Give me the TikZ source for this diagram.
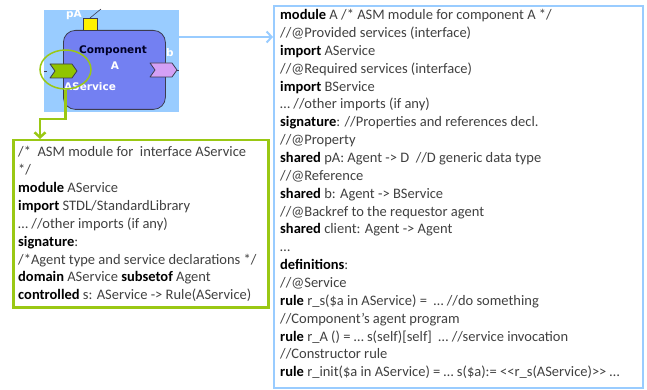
\documentclass[tikz,border=0pt]{standalone}
\usepackage{fontspec}
\setmainfont{Carlito}
\newfontfamily\labelfont{DejaVu Sans}
\usetikzlibrary{arrows.meta,shapes.geometric}
\definecolor{bgblue}{RGB}{153,204,255}
\definecolor{compblue}{RGB}{115,128,242}
\definecolor{lime}{RGB}{154,200,20}
\definecolor{provgreen}{RGB}{145,196,0}
\definecolor{reqviolet}{RGB}{212,160,245}
\definecolor{codegray}{RGB}{64,64,64}
\definecolor{edgegray}{RGB}{60,60,80}
\newcommand\kw[1]{\textbf{\color{black}#1}}
\begin{document}
\begin{tikzpicture}[x=1pt,y=-1pt,
  codeline/.style={anchor=base west,inner sep=0,text=codegray,
    font=\fontsize{14.5}{17.85}\selectfont},
  lbl/.style={inner sep=0,font=\labelfont\bfseries\fontsize{10.5}{12}\selectfont},
  chev/.style={draw=edgegray,line width=0.8pt,line join=round},
  bluelink/.style={bgblue,line width=2pt,-{Straight Barb[length=5pt,width=11pt]}},
  greenlink/.style={lime,line width=2.5pt,-{Straight Barb[length=5pt,width=11pt]}}]
\useasboundingbox (0,0) rectangle (647,390);

% component A with its ports
\fill[bgblue] (44,10) rectangle (179,112);
\node[draw=edgegray,line width=0.8pt,fill=compblue,rounded corners=12pt,
  minimum width=102pt,minimum height=79pt,anchor=north west] (comp) at (63,30) {};
\node[lbl,text=black!85!blue] (cname) at (113,51) {Component};
\node[lbl,text=white] (cA) at (115,66) {A};
\node[lbl,text=white] (svc) at (90,87) {AService};
\node[lbl,text=white] (lb) at (170,53) {b};
\node[lbl,text=white] (lpA) at (74,15) {pA};

% property port pA
\draw[edgegray,line width=0.6pt] (90,18) -- (101,9);
\node[draw=edgegray,line width=0.8pt,fill=yellow,minimum width=14pt,minimum height=12pt,
  inner sep=0,anchor=north west] (pA) at (83,18) {};

% provided port AService
\draw[edgegray,line width=0.6pt,dashed] (44,71) -- (50,71);
\draw[chev,fill=provgreen] (50,64) -- (72,64) -- (77,71) -- (72,78) -- (50,78) -- (55,71) -- cycle;

% required port b
\draw[chev,fill=reqviolet] (150,63) -- (172,63) -- (177,70) -- (172,77) -- (150,77) -- (155,70) -- cycle;
\draw[edgegray,line width=0.6pt] (177,70) -- (179,70);

\node[draw=lime,line width=1.5pt,ellipse,minimum width=51pt,minimum height=39pt,inner sep=0] (ring) at (65.5,69.5) {};

% ASM module of component A
\node[draw=bgblue,line width=2pt,minimum width=369pt,minimum height=382pt,anchor=north west,inner sep=0] (modA) at (273,5) {};
\coordinate (src) at (179,37);
\draw[bluelink] (src) -- (modA.west |- src);

\foreach \t [count=\i] in {
  {\kw{module} A /* ASM module for component A */},
  {//@Provided services (interface)},
  {\kw{import} AService},
  {//@Required services (interface)},
  {\kw{import} BService},
  {… //other imports (if any)},
  {\kw{signature}: //Properties and references decl.},
  {//@Property},
  {\kw{shared} pA: Agent -> D \ //D generic data type},
  {//@Reference},
  {\kw{shared} b: Agent -> BService},
  {//@Backref to the requestor agent},
  {\kw{shared} client: Agent -> Agent},
  {…},
  {\kw{definitions}:},
  {//@Service},
  {\kw{rule} r\_s(\$a in AService) = \ … //do something},
  {//Component’s agent program},
  {\kw{rule} r\_A () = … s(self)[self] \ … //service invocation},
  {//Constructor rule},
  {\kw{rule} r\_init(\$a in AService) = … s(\$a):= <{}<r\_s(AService)>{}> …}}
  \node[codeline] (ma\i) at (280,{19.7+(\i-1)*17.85}) {\t};

% ASM module of interface AService
\node[draw=lime,line width=2.5pt,minimum width=255pt,minimum height=167pt,anchor=north west,inner sep=0] (modS) at (12,139) {};
\coordinate (bend) at (40,119);
\draw[greenlink] (ring.south) |- (bend) -- (modS.north -| bend);

\foreach \t [count=\i] in {
  {/* \ ASM module for \ interface AService},
  {*/},
  {\kw{module} AService},
  {\kw{import} STDL/StandardLibrary},
  {… //other imports (if any)},
  {\kw{signature}:},
  {/*Agent type and service declarations */},
  {\kw{domain} AService \kw{subsetof} Agent},
  {\kw{controlled} s: AService -> Rule(AService)}}
  \node[codeline] (ms\i) at (18,{157+(\i-1)*17.85}) {\t};
\end{tikzpicture}
\end{document}
